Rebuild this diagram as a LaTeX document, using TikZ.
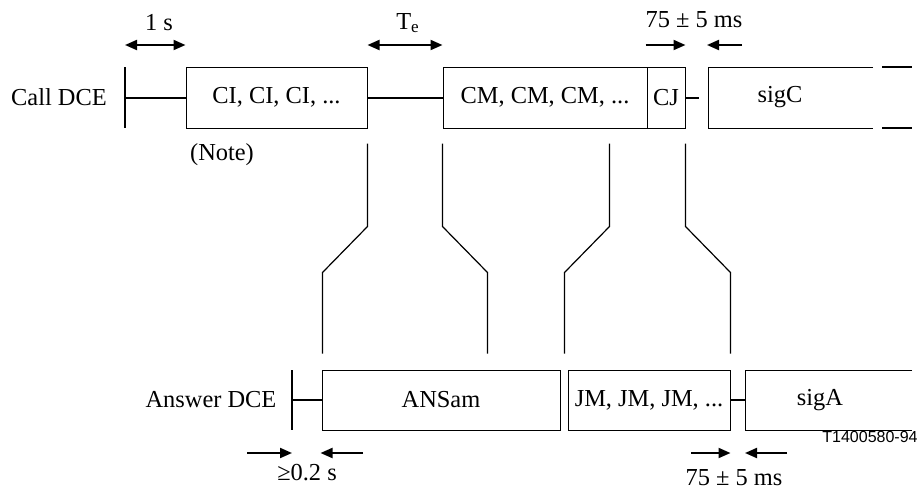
\documentclass[tikz,border=0pt]{standalone}
\usepackage{amsmath}
\usepackage{fontspec}
\setmainfont{Liberation Serif}
\newfontfamily\figsans{Liberation Sans}
\usetikzlibrary{arrows.meta,positioning,calc}

\begin{document}
\begin{tikzpicture}[
  x=0.5pt, y=-0.5pt,
  font=\fontsize{12.2}{14}\selectfont,
  box/.style={draw, line width=0.5pt, inner sep=0pt, minimum height=30.5pt},
  lbl/.style={inner sep=0pt},
  link/.style={line width=1pt},
  bar/.style={line width=1.2pt},
  guide/.style={line width=0.6pt},
  arr/.style={-{Triangle[length=6pt,width=5pt]}, line width=1pt},
  dimarr/.style={{Triangle[length=6pt,width=5pt]}-{Triangle[length=6pt,width=5pt]}, line width=1pt}
]
\useasboundingbox (0,0) rectangle (918,489);

\coordinate (toparr) at (0,45);
\coordinate (botarr) at (0,453);

\node[lbl] (call) at (59,97.5) {Call DCE};
\coordinate (cbar) at (125,97.5);
\draw[bar] (125,67) -- (125,128);
\node[box, minimum width=90.5pt] (ci) at (276.5,97.5) {CI, CI, CI, ...};
\node[box, minimum width=102pt] (cm) at (545,97.5) {CM, CM, CM, ...};
\node[box, minimum width=19pt] (cj) at (666,97.5) {CJ};
\node[lbl] (sigc) at (780,97.5) {sigC};
\coordinate (cjend) at (699,97.5);
\draw[line width=0.5pt] (873,67) -- (708,67) -- (708,128) -- (873,128);
\draw[bar] (882,67) -- (912,67);
\draw[bar] (882,128) -- (912,128);
\node[lbl] (note) at (222,155) {(Note)};

\draw[link] (cbar) -- (ci.west);
\draw[link] (ci.east) -- (cm.west);
\draw[link] (cj.east) -- (cjend);

\node[lbl] (answer) at (211,400) {Answer DCE};
\coordinate (abar) at (292,400);
\draw[bar] (292,370) -- (292,430);
\node[box, minimum width=119pt, minimum height=30pt] (ans) at (441,400) {ANSam};
\node[box, minimum width=81pt, minimum height=30pt] (jm) at (649,400) {JM, JM, JM, ...};
\node[lbl] (siga) at (820,400) {sigA};
\coordinate (sigastart) at (745,400);
\draw[line width=0.5pt] (912,370) -- (745,370) -- (745,430) -- (912,430);

\draw[link] (abar) -- (ans.west);
\draw[link] (jm.east) -- (sigastart);

\draw[guide] ($(ci.south east)+(0,15)$) -- ++(0,83) -- ++(-45,46) -- ++(0,81);
\draw[guide] ($(cm.south west)+(0,15)$) -- ++(0,83) -- ++(45,46) -- ++(0,81);
\draw[guide] ($(cm.south east)+(-38,15)$) -- ++(0,83) -- ++(-45,46) -- ++(0,81);
\draw[guide] ($(cj.south east)+(0,15)$) -- ++(0,83) -- ++(45,46) -- ++(0,81);

\node[lbl] (onesec) at (159,23) {1 s};
\draw[dimarr] (cbar |- toparr) -- (ci.west |- toparr);
\node[lbl] (te) at (408,23) {$\text{T}_\text{e}$};
\draw[dimarr] (ci.east |- toparr) -- (cm.west |- toparr);
\node[lbl] (topgap) at (694,20) {75 ± 5 ms};
\draw[arr] ($(cj.east |- toparr)+(-40,0)$) -- (cj.east |- toparr);
\draw[arr] (742,45) -- (707,45);

\node[lbl] (mingap) at (307,473) {≥0.2 s};
\draw[arr] (247,453) -- (abar |- botarr);
\draw[arr] (363,453) -- ($(ans.west |- botarr)+(-1,0)$);
\node[lbl] (botgap) at (734,478) {75 ± 5 ms};
\draw[arr] (691,453) -- (jm.east |- botarr);
\draw[arr] (787,453) -- (sigastart |- botarr);

\node[lbl, font=\figsans\fontsize{8}{10}\selectfont] (ref) at (870,437) {T1400580-94};
\end{tikzpicture}
\end{document}
